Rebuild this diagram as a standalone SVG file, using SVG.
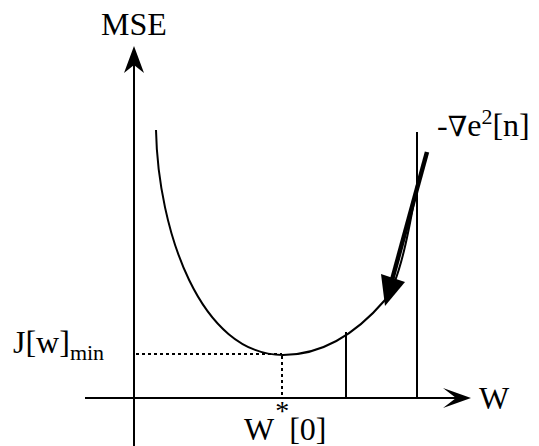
<svg xmlns="http://www.w3.org/2000/svg" width="539" height="446" viewBox="0 0 539 446">
<style>
.ln{stroke:#000;stroke-width:2;fill:none}
.dot{stroke:#000;stroke-width:2;stroke-dasharray:3 3;fill:none}
.t{font-family:"Liberation Serif","Times New Roman",serif;font-size:32px;fill:#000}
.s{font-size:22px}
.ast{font-size:28px}
.nab{font-family:"DejaVu Serif",serif;font-size:28px}
</style>
<rect width="539" height="446" fill="#fff"/>
<g id="axes">
<line class="ln" x1="134" y1="446" x2="134" y2="60"/>
<polygon points="134,46 144,73 134,65 124,73" fill="#000"/>
<line class="ln" x1="85" y1="398" x2="460" y2="398"/>
<polygon points="471,398 443,388 456,398 443,408" fill="#000"/>
</g>
<g id="curve">
<path class="ln" d="M156,130 C158,230 200,355 283,355 C320,355 355,335 385,300 C400,282 410,225 417,185"/>
</g>
<g id="connectors">
<line class="dot" x1="136" y1="354" x2="282" y2="354"/>
<line class="dot" x1="282" y1="356" x2="282" y2="397"/>
<line class="ln" x1="346" y1="332" x2="346" y2="398"/>
<line class="ln" x1="417" y1="132" x2="417" y2="398"/>
<line stroke="#000" stroke-width="4.5" x1="427" y1="152" x2="392" y2="280"/>
<polygon points="385,306 381,274 405,282" fill="#000"/>
</g>
<g id="labels">
<text class="t" x="101" y="35">MSE</text>
<text class="t" x="479" y="409">W</text>
<text class="t" x="13" y="353">J[w]<tspan class="s" dy="7">min</tspan></text>
<text class="t" x="244" y="440">W<tspan class="ast" dx="1" dy="-20">*</tspan><tspan dy="20">[0]</tspan></text>
<text class="t" x="437" y="136">-<tspan class="nab">∇</tspan>e<tspan class="s" dy="-12">2</tspan><tspan dy="12">[n]</tspan></text>
</g>
</svg>
